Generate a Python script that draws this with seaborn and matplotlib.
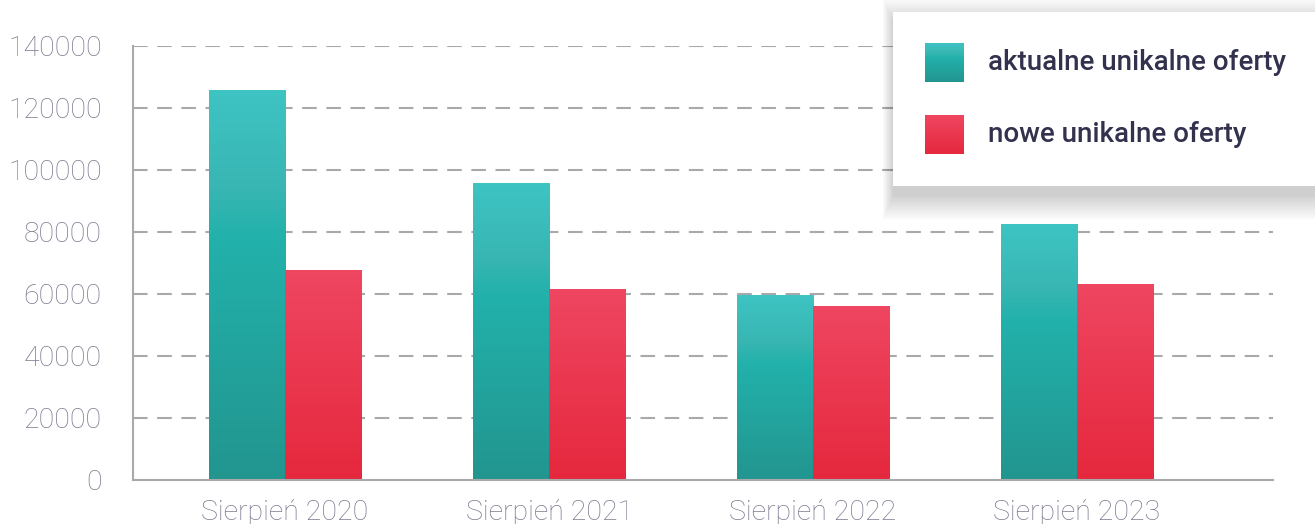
import numpy as np
import pandas as pd
import matplotlib
matplotlib.use("Agg")
import matplotlib.pyplot as plt
import seaborn as sns
from matplotlib.patches import Rectangle
from matplotlib.colors import LinearSegmentedColormap

# --- Data ---
categories = ["Sierpień 2020", "Sierpień 2021", "Sierpień 2022", "Sierpień 2023"]
aktualne = [125500, 95500, 59400, 82300]
nowe = [67700, 61300, 56100, 63200]
series_names = ["aktualne unikalne oferty", "nowe unikalne oferty"]
y_ticks = [0, 20000, 40000, 60000, 80000, 100000, 120000, 140000]

# --- Style ---
sns.set_style("white")
plt.rcParams["font.family"] = ["Roboto", "DejaVu Sans"]
TICK_COLOR = "#7b7a8f"
LINE_COLOR = "#a9a9ab"
TEXT_COLOR = "#32324e"

teal_cmap = LinearSegmentedColormap.from_list(
    "teal", [(0.0, "#23958f"), (0.62, "#22b1ab"), (0.75, "#38b6b3"), (1.0, "#3ec4c3")])
red_cmap = LinearSegmentedColormap.from_list(
    "red", [(0.0, "#e5283d"), (1.0, "#ef4661")])
cmaps = {series_names[0]: teal_cmap, series_names[1]: red_cmap}

df = pd.DataFrame({
    "kategoria": categories * 2,
    "seria": [series_names[0]] * 4 + [series_names[1]] * 4,
    "wartosc": aktualne + nowe,
})

W, H = 1315, 524
fig = plt.figure(figsize=(W / 100, H / 100), dpi=100)
ax = fig.add_axes([133 / W, 1 - 480 / H, (1273 - 133) / W, (480 - 46) / H])

sns.barplot(data=df, x="kategoria", y="wartosc", hue="seria",
            palette=["#22b1ab", "#e83047"], width=0.576, ax=ax,
            legend=False, saturation=1, errorbar=None)

# --- Replace solid bars with vertical gradients ---
grad = np.linspace(0, 1, 256).reshape(-1, 1)
bars = list(ax.patches)
for i, bar in enumerate(bars):
    name = series_names[0] if i < len(categories) else series_names[1]
    x0, y0 = bar.get_x(), bar.get_y()
    w, h = bar.get_width(), bar.get_height()
    ax.imshow(grad, cmap=cmaps[name], origin="lower", aspect="auto",
              extent=[x0, x0 + w, y0, y0 + h], zorder=2, interpolation="bilinear")
    bar.set_visible(False)

ax.set_xlim(-0.576, 3.742)
ax.set_ylim(0, 140000)
ax.set_yticks(y_ticks)
ax.set_yticklabels([str(v) for v in y_ticks])
ax.set_xlabel("")
ax.set_ylabel("")

for v in y_ticks[1:]:
    ax.axhline(v, color=LINE_COLOR, lw=1.5, ls=(0, (7, 4.6)), zorder=1)

for side in ["top", "right"]:
    ax.spines[side].set_visible(False)
for side in ["left", "bottom"]:
    ax.spines[side].set_color(LINE_COLOR)
    ax.spines[side].set_linewidth(1.5)
    ax.spines[side].set_zorder(3)

ax.tick_params(axis="y", length=12.5, width=1.5, color=LINE_COLOR, pad=10,
               labelsize=20.5, labelcolor=TICK_COLOR)
ax.tick_params(axis="x", length=0, pad=14, labelsize=20.5, labelcolor=TICK_COLOR)
for lab in ax.get_xticklabels() + ax.get_yticklabels():
    lab.set_fontweight("light")

# --- Legend box with soft shadow ---
bx0, by0, bx1, by1 = 893, 12, 1330, 186  # pixel box (top-left origin)
for k in range(16):
    gx, gy = 0.7 * k, 1.6 * k
    shadow = Rectangle(((bx0 - gx) / W, 1 - (by1 + 10 + gy) / H),
                       (bx1 - bx0 + 2 * gx) / W, (by1 - by0 + 2 * gy) / H,
                       transform=fig.transFigure, facecolor="black",
                       edgecolor="none", alpha=0.012, zorder=5)
    fig.add_artist(shadow)

leg_ax = fig.add_axes([bx0 / W, 1 - by1 / H, (bx1 - bx0) / W, (by1 - by0) / H], zorder=6)
leg_ax.set_facecolor("white")
leg_ax.set_xticks([])
leg_ax.set_yticks([])
for s in leg_ax.spines.values():
    s.set_visible(False)

for name, top in zip(series_names, [43, 115]):
    leg_ax.imshow(grad, cmap=cmaps[name], origin="lower", aspect="auto",
                  extent=[925, 964, top + 39, top], interpolation="bilinear")
    leg_ax.text(988, top + 20, name, fontsize=20, fontweight="medium",
                color=TEXT_COLOR, va="center", ha="left")
leg_ax.set_xlim(bx0, bx1)
leg_ax.set_ylim(by1, by0)

fig.savefig("out.png", dpi=100, facecolor="white")
